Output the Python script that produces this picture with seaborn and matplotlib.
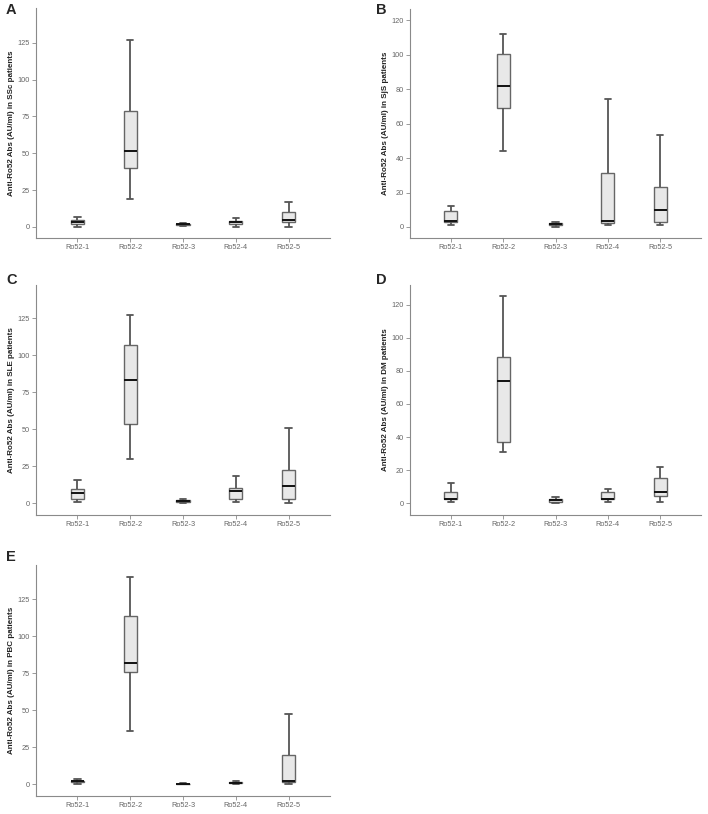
import numpy as np
import pandas as pd
import seaborn as sns
import matplotlib.pyplot as plt

# five-number summaries: [min, q1, median, q3, max]
groups = ["Ro52-1", "Ro52-2", "Ro52-3", "Ro52-4", "Ro52-5"]

ssc_stats = [[0, 2, 3.4, 4.7, 7], [18.9, 39.9, 51.8, 78.6, 126.8], [0.7, 1.5, 2, 2.2, 3],
             [0, 2, 3.2, 4.3, 6], [0, 3.2, 5, 10, 17]]
sjs_stats = [[1, 3.1, 3.5, 9.5, 12], [43.9, 69.1, 82, 100.3, 112.3], [0, 1, 1.7, 2.1, 2.9],
             [1, 2.1, 3.7, 31.5, 74.1], [1, 3.1, 10, 23, 53.2]]
sle_stats = [[1.1, 2.7, 7, 9.9, 16], [30, 53.4, 83.1, 106.8, 127], [0, 1.1, 1.8, 2.3, 3.2],
             [1.1, 2.7, 8.3, 10.6, 18.7], [0, 3.2, 11.9, 22.5, 50.9]]
dm_stats = [[1, 2.4, 2.8, 6.6, 12.1], [31, 37.2, 74.1, 88.6, 125], [0, 1, 2, 2.8, 4],
            [1, 2.4, 2.8, 6.6, 8.9], [1, 4.2, 7, 15.5, 21.9]]
pbc_stats = [[0, 1.1, 1.8, 2.3, 3.2], [36, 75.5, 81.8, 113.7, 139.6], [0, 0.1, 0.2, 0.3, 0.4],
             [0, 0.4, 0.9, 1.2, 2], [0, 1.1, 2.3, 19.4, 47]]

panels = [
    ("A", "SSc", ssc_stats, [0, 25, 50, 75, 100, 125], (-7.5, 148.5), (36, 8, 330, 238), (6, 14)),
    ("B", "SjS", sjs_stats, [0, 20, 40, 60, 80, 100, 120], (-6.4, 126.6), (410, 9, 701, 238), (376, 14)),
    ("C", "SLE", sle_stats, [0, 25, 50, 75, 100, 125], (-7.9, 147.5), (36, 285, 330, 515), (6, 284)),
    ("D", "DM", dm_stats, [0, 20, 40, 60, 80, 100, 120], (-7.1, 131.9), (410, 285, 701, 515), (376, 284)),
    ("E", "PBC", pbc_stats, [0, 25, 50, 75, 100, 125], (-8.1, 148), (36, 565, 330, 796), (6, 561)),
]

W, H = 708, 814
sns.set_style("white")
plt.rcParams["font.family"] = ["Liberation Sans", "DejaVu Sans"]

fig = plt.figure(figsize=(W / 100, H / 100), dpi=100)

for letter, disease, stats, yticks, ylim, box, lpos in panels:
    l, t, r, b = box
    ax = fig.add_axes([l / W, 1 - b / H, (r - l) / W, (b - t) / H])
    df = pd.DataFrame({
        "group": np.repeat(groups, 5),
        "value": np.concatenate(stats),
    })
    sns.boxplot(data=df, x="group", y="value", order=groups, ax=ax,
                whis=(0, 100), width=0.25, color="#e8e8e8", fliersize=0,
                linecolor="#666666", linewidth=1.0,
                medianprops=dict(color="#111111", linewidth=1.4),
                whiskerprops=dict(color="#555555", linewidth=1.3),
                capprops=dict(color="#555555", linewidth=1.3))
    ax.set_xlim(-0.78, 4.78)
    ax.set_ylim(*ylim)
    ax.set_yticks(yticks)
    ax.set_xlabel("")
    ax.set_ylabel(f"Anti-Ro52 Abs (AU/ml) in {disease} patients",
                  fontsize=5.8, fontweight="bold", color="#222222")
    ax.yaxis.set_label_coords(-0.072, 0.5)
    for side in ["top", "right"]:
        ax.spines[side].set_visible(False)
    for side in ["left", "bottom"]:
        ax.spines[side].set_color("#8a8a8a")
        ax.spines[side].set_linewidth(0.8)
    ax.tick_params(axis="both", which="both", length=3, width=0.6, color="#8a8a8a",
                   labelsize=5.3, labelcolor="#666666", pad=1.5, left=True, bottom=True)
    fig.text(lpos[0] / W, 1 - lpos[1] / H, letter, fontsize=10.5, fontweight="bold",
             ha="left", va="baseline")

fig.savefig("out.png", dpi=100)
